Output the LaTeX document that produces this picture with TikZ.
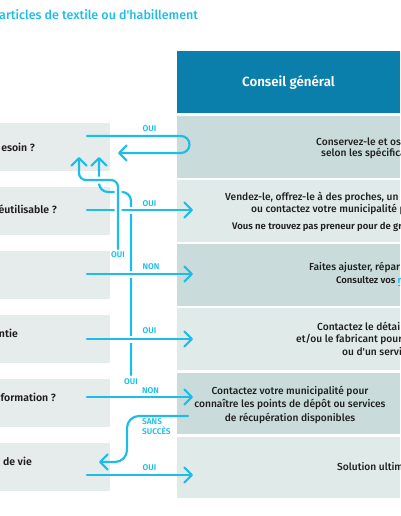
\documentclass[tikz,border=0pt]{standalone}
\usepackage{fontspec}
\setmainfont{Fira Sans}
\newfontfamily\med{Fira Sans}[UprightFont=* Medium, BoldFont=* SemiBold]
\newfontfamily\smb{Fira Sans}[UprightFont=* SemiBold]
\usetikzlibrary{arrows.meta}
\definecolor{cy}{HTML}{1DBDEA}
\definecolor{hdr}{HTML}{0A7FAB}
\definecolor{rdark}{HTML}{C9DCDB}
\definecolor{rlight}{HTML}{E0EAE9}
\definecolor{lbox}{HTML}{E6EBEB}
\definecolor{txt}{HTML}{1E1E1E}
\begin{document}
\begin{tikzpicture}[x=1pt,y=-1pt,
  box/.style={rectangle, draw=none, inner sep=0pt, outer sep=0pt},
  rdk/.style={box, fill=rdark, minimum width=223pt, minimum height=62pt},
  rlt/.style={box, fill=rlight, minimum width=223pt, minimum height=62pt},
  lft/.style={box, fill=lbox, minimum width=110pt, minimum height=48pt},
  flow/.style={draw=cy, line width=2.2pt, line cap=round, line join=round},
  arr/.style={flow, -{Straight Barb[length=7.5pt,width=15pt,round]}},
  halo/.style={draw=white, line width=7pt},
  lab/.style={text=cy, font=\med\bfseries\fontsize{8.3}{9}\selectfont, inner sep=0pt},
  rtxt/.style={text=txt, font=\med\fontsize{10.2}{13.5}\selectfont, inner sep=0pt, anchor=west},
  rsm/.style={text=txt, font=\smb\fontsize{9.5}{10}\selectfont, inner sep=0pt, anchor=west},
  ltxt/.style={text=txt, font=\med\bfseries\fontsize{10.5}{12}\selectfont, inner sep=0pt, anchor=east}
]
\useasboundingbox (0,0) rectangle (400,516);
\clip (0,0) rectangle (400,516);

% title
\node[anchor=west, inner sep=0pt, text=cy, font=\med\fontsize{12.5}{14}\selectfont] (title) at (-1,15) {articles de textile ou d'habillement};

% header
\node[box, fill=hdr, minimum width=223pt, minimum height=62pt, text=white, font=\med\bfseries\fontsize{13.3}{15}\selectfont] (hd) at (288.5,82) {Conseil général};

% right boxes
\node[rdk] (r1) at (288.5,147) {};
\node[rlt] (r2) at (288.5,211) {};
\node[rdk] (r3) at (288.5,275) {};
\node[rlt] (r4) at (288.5,339) {};
\node[rdk, minimum height=61pt] (r5) at (288.5,403.5) {};
\node[rlt, minimum height=61pt] (r6) at (288.5,467.5) {};

% left boxes
\node[lft] (l1) at (55,147) {};
\node[lft] (l2) at (55,210.5) {};
\node[lft] (l3) at (55,274.5) {};
\node[lft] (l4) at (55,339) {};
\node[lft] (l5) at (55,403) {};
\node[lft] (l6) at (55,467) {};

% left texts
\node[ltxt] (lt1) at (35,147) {esoin ?};
\node[ltxt] (lt2) at (57,209) {éutilisable ?};
\node[ltxt] (lt4) at (18,333) {ntie};
\node[ltxt] (lt5) at (56,397) {formation ?};
\node[ltxt] (lt6) at (32,461) {de vie};

% right texts
\node[rtxt] (t1a) at (316,142) {Conservez-le et os};
\node[rtxt] (t1b) at (321,153) {selon les spécifica};
\node[rtxt] (t2a) at (225,197) {Vendez-le, offrez-le à des proches, un};
\node[rtxt] (t2b) at (251,209) {ou contactez votre municipalité p};
\node[rsm] (t2c) at (232,227) {Vous ne trouvez pas preneur pour de gra};
\node[rtxt] (t3a) at (309,267) {Faites ajuster, répar};
\node[rsm] (t3b) at (336,281) {Consultez vos \textcolor{cy}{\underline{r}}};
\node[rtxt] (t4a) at (317,326) {Contactez le détai};
\node[rtxt] (t4b) at (296,339) {et/ou le fabricant pour};
\node[rtxt] (t4c) at (342,352) {ou d'un servi};
\node[rtxt, anchor=center, align=center] (t5) at (290,404.5) {Contactez votre municipalité pour\\connaître les points de dépôt ou services\\de récupération disponibles};
\node[rtxt] (t6) at (337,467) {Solution ultim};

% connector coordinates
\coordinate (s1) at (87,136);
\coordinate (s2) at (87,210);
\coordinate (s3) at (87,274);
\coordinate (s4) at (87,339);
\coordinate (s5) at (87,397);
\coordinate (s6) at (87,475);
\coordinate (e2) at (193,210);
\coordinate (e3) at (193,274);
\coordinate (e4) at (193,339);
\coordinate (e5) at (193,397);
\coordinate (e6) at (193,475);
\coordinate (back1) at (118,153);
\coordinate (up1) at (79,157);
\coordinate (up2) at (99,157);
\coordinate (o3) at (118,249);
\coordinate (o5) at (131,375);
\coordinate (ss) at (188,416);
\coordinate (ssend) at (99,462);

% row 1 loop
\draw[arr] (s1) -- (181,136) arc[start angle=-90, end angle=90, radius=8.5] -- (back1);

% inner path (row 5 OUI back up)
\draw[arr, rounded corners=9pt] (o5) -- (131,192) -- (99,192) -- (up2);

% horizontals 2-4 with halos
\begin{scope}
\clip (112,0) rectangle (176,516);
\draw[halo] (s2) -- (e2);
\draw[halo] (s3) -- (e3);
\draw[halo] (s4) -- (e4);
\end{scope}
\draw[arr] (s2) -- (e2);
\draw[arr] (s3) -- (e3);
\draw[arr] (s4) -- (e4);

% outer path (row 3 OUI back up)
\begin{scope}
\clip (85,174) rectangle (176,260);
\draw[halo, rounded corners=7pt] (o3) -- (118,180) -- (79,180) -- (up1);
\end{scope}
\draw[arr, rounded corners=7pt] (o3) -- (118,180) -- (79,180) -- (up1);

% rows 5, 6
\draw[arr] (s5) -- (e5);
\draw[arr] (s6) -- (e6);
\draw[arr, rounded corners=12pt] (ss) -- (127,416) -- (127,462) -- (ssend);

% labels
\node[lab] (la1) at (149.5,129) {OUI};
\node[lab] (la2) at (149.5,204) {OUI};
\node[lab] (la3) at (151,267) {NON};
\node[lab] (la4) at (149.5,331) {OUI};
\node[lab] (la5) at (150.5,391) {NON};
\node[lab] (la6) at (149.5,468) {OUI};
\node[lab] (lo3) at (118,255) {OUI};
\node[lab] (lo5) at (131,382) {OUI};
\node[lab, anchor=north west, align=left, font=\med\bfseries\fontsize{8.3}{10}\selectfont] (lss) at (142,418) {SANS\\SUCCÈS};
\end{tikzpicture}
\end{document}
